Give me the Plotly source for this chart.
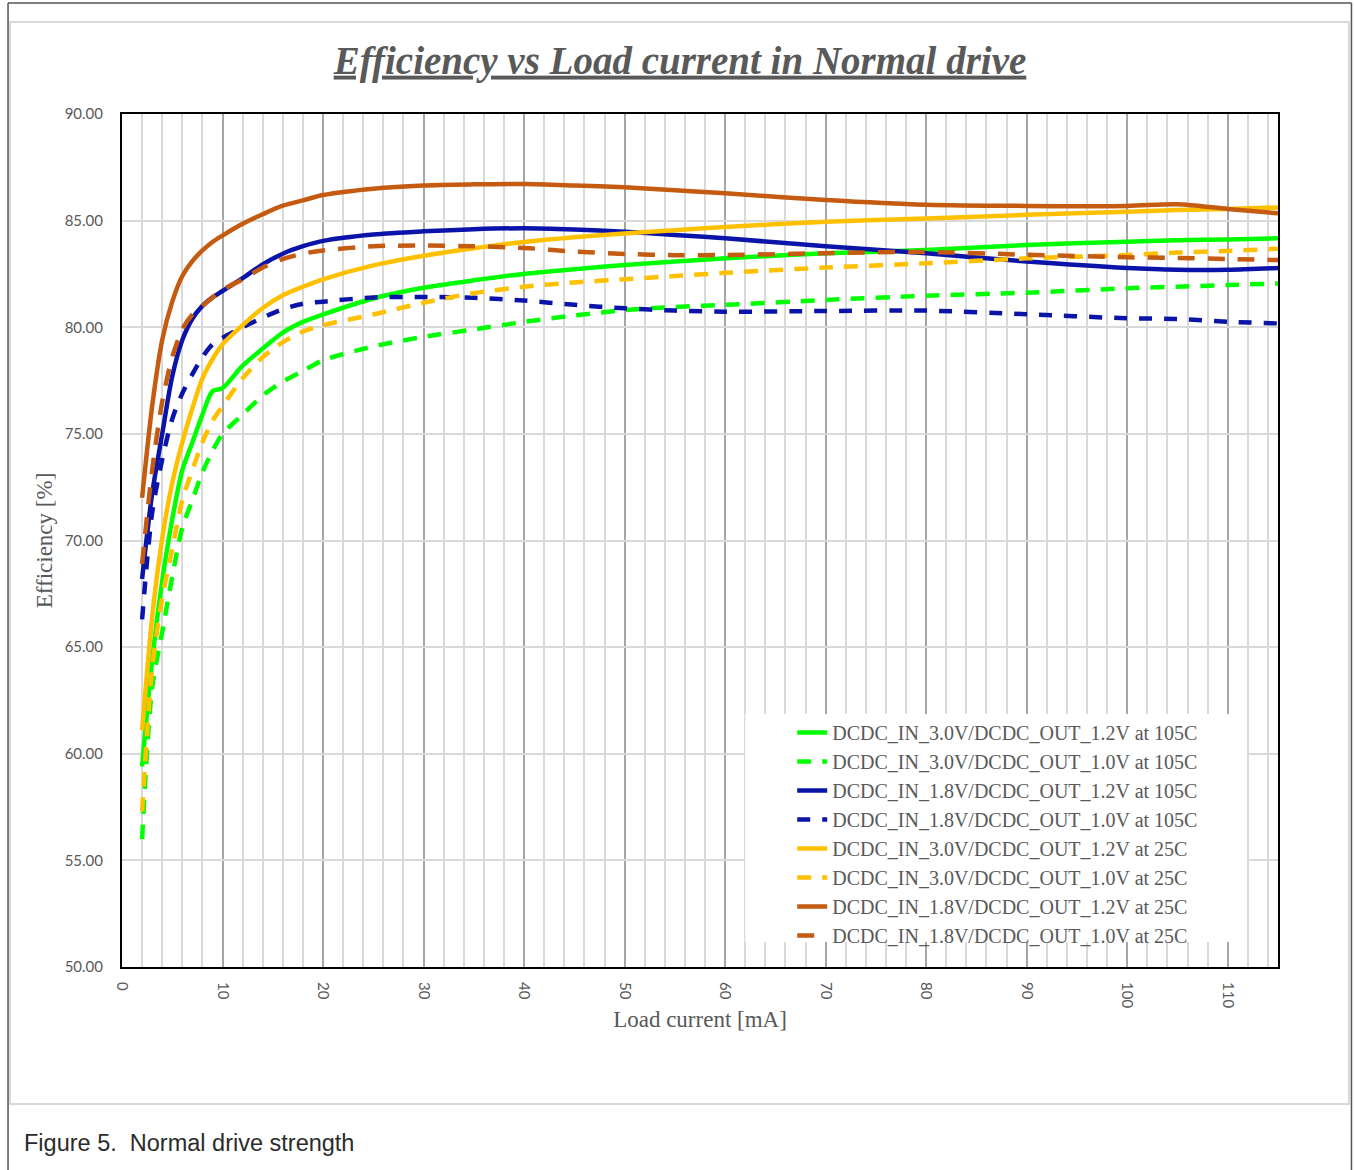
import plotly.graph_objects as go

# ---------------- data ----------------
load_ma = [2, 3, 4, 5, 6, 7, 8, 9, 10, 12, 14, 16, 18, 20, 25, 30, 35, 40, 45, 50,
           55, 60, 70, 80, 90, 100, 105, 110, 115]

eff_in30_out12_105c = [59.4, 64.4, 68.1, 71.0, 73.3, 74.6, 75.9, 77.0, 77.15, 78.2, 79.0, 79.75,
                       80.25, 80.6, 81.35, 81.85, 82.2, 82.5, 82.72, 82.92, 83.08, 83.23, 83.47,
                       83.62, 83.86, 84.01, 84.08, 84.12, 84.17]
eff_in30_out10_105c = [56.0, 63.1, 65.7, 68.3, 70.6, 71.9, 73.2, 74.2, 75.0, 75.9, 76.8, 77.45,
                       77.95, 78.45, 79.1, 79.55, 79.9, 80.25, 80.55, 80.8, 80.95, 81.05, 81.28,
                       81.48, 81.62, 81.83, 81.9, 81.98, 82.05]
eff_in18_out12_105c = [68.2, 72.2, 75.0, 77.7, 79.4, 80.4, 81.0, 81.4, 81.7, 82.3, 82.95, 83.45,
                       83.8, 84.05, 84.35, 84.5, 84.6, 84.64, 84.58, 84.48, 84.33, 84.17, 83.8,
                       83.47, 83.08, 82.78, 82.7, 82.7, 82.78]
eff_in18_out10_105c = [66.3, 71.3, 73.8, 75.7, 76.9, 77.8, 78.6, 79.2, 79.5, 80.0, 80.45, 80.85,
                       81.1, 81.2, 81.4, 81.42, 81.38, 81.25, 81.05, 80.89, 80.78, 80.73, 80.76,
                       80.78, 80.61, 80.42, 80.39, 80.26, 80.18]
eff_in30_out12_25c = [61.1, 66.4, 70.1, 72.7, 74.6, 76.2, 77.6, 78.5, 79.2, 80.1, 80.9, 81.5,
                      81.9, 82.25, 82.9, 83.35, 83.7, 84.0, 84.22, 84.4, 84.55, 84.7, 84.95,
                      85.1, 85.27, 85.42, 85.5, 85.55, 85.62]
eff_in30_out10_25c = [57.3, 64.0, 67.3, 69.6, 71.9, 73.3, 74.6, 75.6, 76.3, 77.6, 78.6, 79.3,
                      79.8, 80.1, 80.6, 81.15, 81.6, 81.9, 82.1, 82.25, 82.4, 82.55, 82.8,
                      83.0, 83.23, 83.39, 83.5, 83.58, 83.68]
eff_in18_out12_25c = [72.0, 76.3, 79.4, 81.2, 82.4, 83.1, 83.6, 84.0, 84.3, 84.85, 85.3, 85.7,
                      85.95, 86.2, 86.5, 86.65, 86.7, 86.72, 86.65, 86.56, 86.42, 86.28, 85.97,
                      85.75, 85.69, 85.69, 85.77, 85.55, 85.34]
eff_in18_out10_25c = [68.9, 73.3, 76.5, 78.6, 79.9, 80.6, 81.0, 81.4, 81.75, 82.25, 82.8, 83.2,
                      83.45, 83.6, 83.8, 83.83, 83.8, 83.72, 83.55, 83.44, 83.38, 83.39, 83.47,
                      83.53, 83.4, 83.28, 83.25, 83.2, 83.15]

series_names = [
    "DCDC_IN_3.0V/DCDC_OUT_1.2V at 105C",
    "DCDC_IN_3.0V/DCDC_OUT_1.0V at 105C",
    "DCDC_IN_1.8V/DCDC_OUT_1.2V at 105C",
    "DCDC_IN_1.8V/DCDC_OUT_1.0V at 105C",
    "DCDC_IN_3.0V/DCDC_OUT_1.2V at 25C",
    "DCDC_IN_3.0V/DCDC_OUT_1.0V at 25C",
    "DCDC_IN_1.8V/DCDC_OUT_1.2V at 25C",
    "DCDC_IN_1.8V/DCDC_OUT_1.0V at 25C",
]
series_values = [eff_in30_out12_105c, eff_in30_out10_105c, eff_in18_out12_105c, eff_in18_out10_105c,
                 eff_in30_out12_25c, eff_in30_out10_25c, eff_in18_out12_25c, eff_in18_out10_25c]
series_colors = ["#00FF00", "#00FF00", "#0A14A8", "#0A14A8",
                 "#FFC000", "#FFC000", "#C55A11", "#C55A11"]
series_dash = ["solid", "14px,11px", "solid", "13px,12px",
               "solid", "14px,11px", "solid", "17px,13px"]

x_tick_vals = [0, 10, 20, 30, 40, 50, 60, 70, 80, 90, 100, 110]

# ---------------- layout geometry ----------------
W, H = 1354, 1170
PL, PR, PT, PB = 121.5, 1278.0, 114.0, 967.0  # plot area in px


def px(xp):
    return (xp - PL) / (PR - PL)


def py(yp):
    return (PB - yp) / (PB - PT)


GRAY = "#595959"
SERIF = "Liberation Serif"
SANS = "Lato"

fig = go.Figure()
for name, vals, col, dash in zip(series_names, series_values, series_colors, series_dash):
    fig.add_trace(go.Scatter(
        x=load_ma, y=vals, name=name, mode="lines",
        line=dict(color=col, width=4.5, dash=dash, shape="spline", smoothing=0.8),
    ))

shapes = [
    # legend background (covers the gridlines, legend is drawn on top of it)
    dict(type="rect", xref="paper", yref="paper", x0=px(745), x1=px(1247), y0=py(942), y1=py(714),
         fillcolor="white", line=dict(width=0), layer="above"),
    # outer page frame (dark)
    dict(type="line", xref="paper", yref="paper", x0=px(7.5), x1=px(7.5), y0=py(1175), y1=py(3),
         line=dict(color="#555555", width=1.5)),
    dict(type="line", xref="paper", yref="paper", x0=px(1351.5), x1=px(1351.5), y0=py(1175), y1=py(3),
         line=dict(color="#555555", width=1.5)),
    dict(type="line", xref="paper", yref="paper", x0=px(7.5), x1=px(1351.5), y0=py(3), y1=py(3),
         line=dict(color="#555555", width=1.5)),
    # inner chart frame (light)
    dict(type="rect", xref="paper", yref="paper", x0=px(9.5), x1=px(1349), y0=py(1104), y1=py(22),
         line=dict(color="#D9D9D9", width=2), fillcolor="rgba(0,0,0,0)", layer="below"),
]

fig.update_layout(
    width=W, height=H,
    margin=dict(l=PL, r=W - PR, t=PT, b=H - PB, autoexpand=False),
    paper_bgcolor="white", plot_bgcolor="white",
    title=dict(
        text="Efficiency vs Load current in Normal drive",
        font=dict(family=SERIF, size=39, color=GRAY, weight="bold", style="italic", lineposition="under"),
        xref="container", yref="container", x=680 / W, y=1 - 60 / H,
        xanchor="center", yanchor="middle",
    ),
    showlegend=True,
    legend=dict(
        x=px(792), y=py(713), xanchor="left", yanchor="top",
        bgcolor="rgba(0,0,0,0)", borderwidth=0,
        font=dict(family=SERIF, size=20, color=GRAY),
        tracegroupgap=0, itemwidth=30,
    ),
    shapes=shapes,
    annotations=[
        dict(text="Figure 5.  Normal drive strength", xref="paper", yref="paper",
             x=px(21), y=py(1143), xanchor="left", yanchor="middle", showarrow=False,
             font=dict(family="Liberation Sans", size=23.5, color="#2b2b2b")),
    ],
)

fig.update_xaxes(
    range=[0, 115], tickvals=x_tick_vals, tickangle=90,
    tickfont=dict(family=SANS, size=15, color=GRAY), ticks="", ticklabelstandoff=10,
    showgrid=True, gridcolor="#A6A6A6", gridwidth=1.5,
    minor=dict(dtick=2, tick0=0, showgrid=True, gridcolor="#D9D9D9", gridwidth=2),
    showline=True, linecolor="black", linewidth=2, mirror=True, zeroline=False,
    title=dict(text="Load current [mA]", font=dict(family=SERIF, size=23, color=GRAY), standoff=4),
)
fig.update_yaxes(
    range=[50, 90], dtick=5, tickformat=".2f",
    tickfont=dict(family=SANS, size=15, color=GRAY), ticks="", ticklabelstandoff=14,
    showgrid=True, gridcolor="#D9D9D9", gridwidth=2,
    showline=True, linecolor="black", linewidth=2, mirror=True, zeroline=False,
    title=dict(text="Efficiency [%]", font=dict(family=SERIF, size=23, color=GRAY), standoff=6),
)

fig.write_html("out.html", config={"displayModeBar": False},
               post_script="document.body.style.margin='0';")
